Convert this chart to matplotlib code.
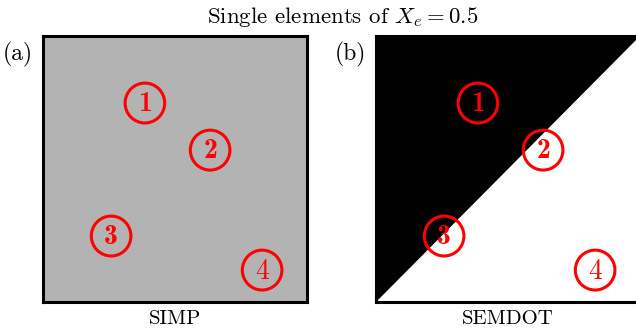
import numpy as np
import matplotlib
matplotlib.use('Agg')
import matplotlib.pyplot as plt
from matplotlib.patches import Circle, Polygon

plt.rcParams['font.family'] = 'serif'
plt.rcParams['font.serif'] = ['cmr10']
plt.rcParams['mathtext.fontset'] = 'cm'
plt.rcParams['axes.unicode_minus'] = False

# marker positions (fraction of element) and labels
labels = ['1', '2', '3', '4']
bold = [True, True, True, False]
px = [0.386, 0.633, 0.258, 0.830]
py = [0.748, 0.571, 0.248, 0.120]

# SEMDOT boundary: solid above the diagonal
solid_x = [0.0, 0.0, 1.0]
solid_y = [0.0, 1.0, 1.0]

titles = ['SIMP', 'SEMDOT']
tags = ['(a)', '(b)']

fig = plt.figure(figsize=(6.36, 3.36), dpi=100)
ax1 = fig.add_axes([43/636, 34/336, 264/636, 266/336])
ax2 = fig.add_axes([376/636, 34/336, 264/636, 266/336])

ax1.set_facecolor('#b3b3b3')
ax2.set_facecolor('white')
ax2.add_patch(Polygon(np.column_stack([solid_x, solid_y]), closed=True,
                      facecolor='black', edgecolor='none', zorder=1))

for ax, t, tag in zip([ax1, ax2], titles, tags):
    ax.set_xlim(0, 1)
    ax.set_ylim(0, 1)
    ax.set_xticks([])
    ax.set_yticks([])
    for s in ax.spines.values():
        s.set_linewidth(2.2)
        s.set_zorder(5)
    ax.set_xlabel(t, fontsize=15, labelpad=6)
    ax.text(-0.038, 0.93, tag, transform=ax.transAxes, ha='right', va='center',
            fontsize=17)
    for lab, b, x, y in zip(labels, bold, px, py):
        ax.add_patch(Circle((x, y), 0.075, facecolor='none', edgecolor='red',
                            linewidth=2.2, zorder=3))
        ax.text(x, y - 0.005, lab, color='red', ha='center', va='center',
                fontsize=20, family='cmb10' if b else 'cmr10', zorder=4)

fig.text(343/636, 1 - 17/336, r'Single elements of $X_e = 0.5$',
         ha='center', va='center', fontsize=16.5)

fig.savefig('out.png', dpi=100)
